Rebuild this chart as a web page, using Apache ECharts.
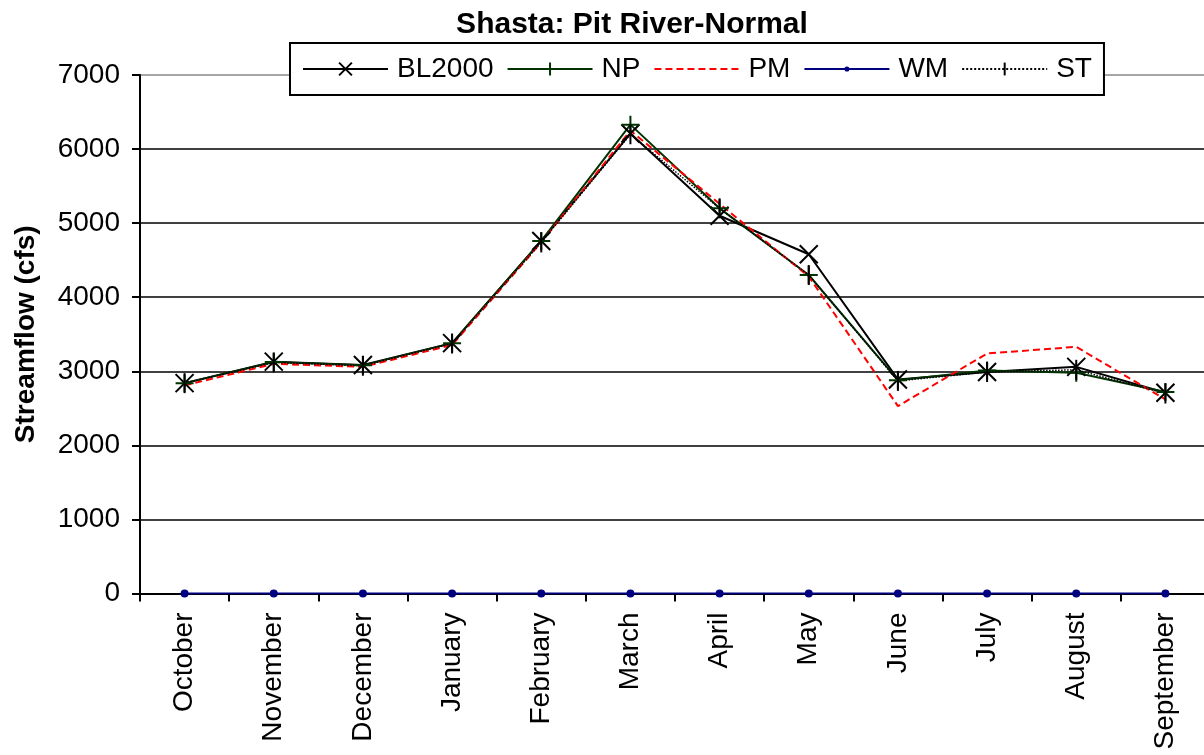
<!DOCTYPE html>
<html lang="en">
<head>
  <meta charset="UTF-8" />
  <title>Shasta: Pit River-Normal</title>
  <script src="https://cdn.jsdelivr.net/npm/echarts@6.0.0/dist/echarts.min.js"></script>
  <style>
    html, body { margin: 0; padding: 0; background: #fff; }
    #chart { width: 1204px; height: 755px; }
  </style>
</head>
<body>
  <div id="chart"></div>

  <script>
    // data
    const months = ['October', 'November', 'December', 'January', 'February', 'March',
                    'April', 'May', 'June', 'July', 'August', 'September'];
    const bl2000 = [2840, 3130, 3085, 3380, 4760, 6210, 5100, 4580, 2890, 2990, 3060, 2710];
    const np     = [2840, 3125, 3080, 3380, 4760, 6330, 5200, 4300, 2880, 3010, 2980, 2720];
    const pm     = [2810, 3100, 3060, 3355, 4740, 6250, 5260, 4280, 2530, 3240, 3330, 2620];
    const wm     = [0, 0, 0, 0, 0, 0, 0, 0, 0, 0, 0, 0];
    const st     = [2840, 3120, 3075, 3375, 4740, 6200, 5200, 4300, 2870, 2990, 3020, 2700];
    const yTicks = [0, 1000, 2000, 3000, 4000, 5000, 6000, 7000];

    const font = 'Liberation Sans, Arial, sans-serif';
    const crossSym = 'path://M0,0L10,10M10,0L0,10';
    const plusSym  = 'path://M5,0L5,10M0,5L10,5';
    const barSym   = 'path://M5,0L5,10M0,5L0,5M10,5L10,5';
    // small dot inside a bigger (empty) box so the legend dot stays small
    const dotSym   = 'path://M3,5A2,2 0 1,0 7,5A2,2 0 1,0 3,5ZM0,0L0,0M10,10L10,10';

    const chart = echarts.init(document.getElementById('chart'));
    chart.setOption({
      animation: false,
      title: {
        text: 'Shasta: Pit River-Normal',
        left: 627,
        textAlign: 'center',
        top: 5,
        textStyle: { fontFamily: font, fontSize: 30, fontWeight: 'bold', color: '#000' }
      },
      legend: {
        left: 290,
        top: 43,
        padding: [12, 12],
        itemWidth: 85,
        itemHeight: 16,
        itemGap: 13,
        borderColor: '#000',
        borderWidth: 2,
        backgroundColor: '#fff',
        z: 10,
        textStyle: { fontFamily: font, fontSize: 28, color: '#000', padding: [0, 0, 0, 4] },
        data: ['BL2000', 'NP', { name: 'PM', itemStyle: { opacity: 0 } }, 'WM', 'ST']
      },
      grid: {
        left: 140, right: -6, top: 75, bottom: 161.5,
        containLabel: false,
        outerBoundsMode: 'none'
      },
      xAxis: {
        type: 'category',
        data: months,
        boundaryGap: true,
        axisLine: { lineStyle: { color: '#000', width: 2 } },
        axisTick: { show: true, length: 8, lineStyle: { color: '#000', width: 2 } },
        axisLabel: { rotate: 90, margin: 19, fontFamily: font, fontSize: 28, color: '#000' },
        splitLine: { show: false }
      },
      yAxis: {
        type: 'value',
        min: yTicks[0],
        max: yTicks[yTicks.length - 1],
        interval: 1000,
        name: 'Streamflow (cfs)',
        nameLocation: 'middle',
        nameGap: 100,
        nameTextStyle: { fontFamily: font, fontSize: 28, fontWeight: 'bold', color: '#000' },
        axisLine: { show: true, lineStyle: { color: '#000', width: 2 } },
        axisTick: { show: true, length: 8, lineStyle: { color: '#000', width: 2 } },
        axisLabel: {
          margin: 20, fontFamily: font, fontSize: 28, color: '#000',
          formatter: v => String(v)
        },
        splitLine: {
          lineStyle: {
            color: ['#000', '#000', '#000', '#000', '#000', '#000', '#000', '#888'],
            width: 1.5
          }
        }
      },
      series: [
        {
          name: 'BL2000', type: 'line', data: bl2000,
          symbol: crossSym, symbolSize: 18,
          lineStyle: { color: '#000', width: 2 },
          itemStyle: { color: '#000', borderColor: '#000', borderWidth: 2 }
        },
        {
          name: 'NP', type: 'line', data: np,
          symbol: plusSym, symbolSize: 18,
          lineStyle: { color: '#003300', width: 2 },
          itemStyle: { color: '#003300', borderColor: '#003300', borderWidth: 2 }
        },
        {
          name: 'PM', type: 'line', data: pm,
          symbol: 'none',
          lineStyle: { color: '#ff0000', width: 2, type: [7, 4] },
          itemStyle: { color: '#ff0000' }
        },
        {
          name: 'WM', type: 'line', data: wm,
          symbol: dotSym, symbolSize: 20,
          lineStyle: { color: '#000080', width: 2 },
          itemStyle: { color: '#000080', borderWidth: 0 }
        },
        {
          name: 'ST', type: 'line', data: st,
          symbol: barSym, symbolSize: 20,
          lineStyle: { color: '#000', width: 1.5, type: 'dotted' },
          itemStyle: { color: '#000', borderColor: '#000', borderWidth: 2 }
        }
      ]
    });
  </script>
</body>
</html>
